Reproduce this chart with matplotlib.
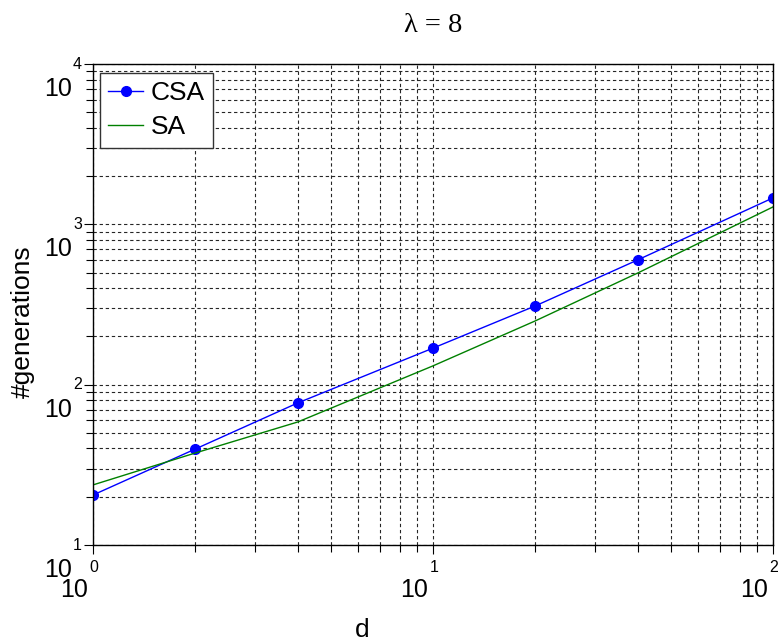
import matplotlib
matplotlib.use("Agg")
import matplotlib.pyplot as plt

# problem dimension d and number of generations to reach the target
d = [1, 2, 4, 10, 20, 40, 100]
csa = [20.5, 39.7, 76.9, 169, 310, 600, 1462]
sa = [23.7, 37.5, 58.5, 131, 250, 497, 1284]

x_decades = [1, 10, 100]
y_decades = [10, 100, 1000, 10000]

plt.rcParams["font.family"] = ["Liberation Sans", "DejaVu Sans"]

W, H = 780, 642
fig = plt.figure(figsize=(W / 100, H / 100), dpi=100)
ax = fig.add_axes([93 / W, 1 - 545 / H, 680 / W, 481 / H])

ax.loglog(d, csa, color="blue", lw=1.0, marker="o", markersize=7, label="CSA")
ax.loglog(d, sa, color="#008000", lw=1.0, label="SA")

ax.set_xlim(1, 100)
ax.set_ylim(10, 10000)

ax.grid(True, which="both", color="0.15", lw=0.8, linestyle=(0, (3, 2.5)))
ax.tick_params(which="both", direction="out", top=False, right=False,
               labelbottom=False, labelleft=False, width=0.8)
ax.tick_params(which="major", length=6.5)
ax.tick_params(which="minor", length=5)
for sp in ax.spines.values():
    sp.set_linewidth(1.0)

# MATLAB style exponent labels, base "10" drawn below the exponent
for i, v in enumerate(x_decades):
    ax.annotate(str(i), xy=(v, 0), xycoords=("data", "axes fraction"),
                xytext=(1, -22), textcoords="offset pixels",
                ha="center", va="center", fontsize=11.5)
    ax.annotate("10", xy=(v, 0), xycoords=("data", "axes fraction"),
                xytext=(-5, -45), textcoords="offset pixels",
                ha="right", va="center", fontsize=18)
for i, v in enumerate(y_decades):
    ax.annotate(str(i + 1), xy=(0, v), xycoords=("axes fraction", "data"),
                xytext=(-20, 0), textcoords="offset pixels",
                ha="left", va="center", fontsize=11.5)
    ax.annotate("10", xy=(0, v), xycoords=("axes fraction", "data"),
                xytext=(-21, -25), textcoords="offset pixels",
                ha="right", va="center", fontsize=18)

leg = ax.legend(loc="upper left", bbox_to_anchor=(7 / 680, 1 - 9 / 481),
                borderaxespad=0, fontsize=19, handlelength=1.3,
                handletextpad=0.3, labelspacing=0.38, borderpad=0.32,
                fancybox=False, framealpha=1)
leg.get_frame().set_edgecolor("0.2")
leg.get_frame().set_linewidth(1.0)

fig.text(433 / W, 1 - 25 / H, "λ = 8", ha="center", va="center", fontsize=20.5,
         family=["Liberation Serif", "DejaVu Serif"])
fig.text(362 / W, 1 - 630 / H, "d", ha="center", va="center", fontsize=19)
fig.text(23 / W, 1 - 322 / H, "#generations", ha="center", va="center",
         rotation=90, fontsize=19)

fig.savefig("out.png", dpi=100)
plt.close(fig)
